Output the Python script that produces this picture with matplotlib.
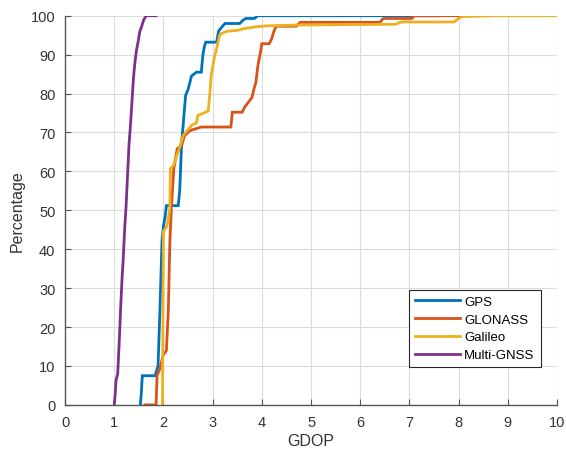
import numpy as np
import matplotlib
matplotlib.use("Agg")
import matplotlib.pyplot as plt

plt.rcParams['font.family'] = ['Liberation Sans', 'DejaVu Sans']

# GDOP vs cumulative percentage
gps_x = [1.53, 1.55, 1.57, 1.83, 1.89, 1.93, 1.97, 2.00, 2.03, 2.06, 2.30, 2.33, 2.37, 2.40,
         2.42, 2.45, 2.50, 2.54, 2.57, 2.67, 2.77, 2.80, 2.83, 2.86, 3.08, 3.12, 3.18, 3.25,
         3.55, 3.62, 3.68, 3.85, 3.92, 7.55]
gps_y = [0, 3, 7.5, 7.5, 10, 25, 42, 46, 48, 51.2, 51.2, 55, 67.5, 71.8,
         75, 79.5, 81, 83, 84.5, 85.5, 85.5, 89.8, 92, 93.2, 93.2, 96, 97, 98,
         98, 98.9, 99.3, 99.3, 100, 100]

glo_x = [1.62, 1.85, 1.87, 1.93, 1.99, 2.06, 2.10, 2.13, 2.16, 2.21, 2.28, 2.37, 2.43, 2.54,
         2.67, 2.77, 3.37, 3.40, 3.60, 3.65, 3.74, 3.80, 3.84, 3.88, 3.92, 3.96, 4.00, 4.15,
         4.20, 4.24, 4.29, 4.70, 4.78, 6.40, 6.47, 7.05, 7.10, 8.65]
glo_y = [0, 0, 7.6, 9.3, 12.7, 14, 24.7, 41.8, 50.4, 60.7, 65.8, 66.7, 69.2, 70.5,
         71, 71.4, 71.4, 75.2, 75.2, 76.5, 78, 79, 81.2, 82.9, 87.2, 89.8, 92.8, 92.8,
         94.1, 95.8, 97.3, 97.3, 98.3, 98.3, 99.3, 99.3, 100, 100]

gal_x = [1.98, 2.00, 2.05, 2.08, 2.13, 2.14, 2.20, 2.25, 2.32, 2.40, 2.45, 2.57, 2.67, 2.70,
         2.91, 2.94, 2.97, 3.03, 3.08, 3.14, 3.18, 3.28, 3.48, 3.65, 3.85, 4.09, 4.70, 6.59,
         6.73, 6.78, 6.85, 7.91, 8.00, 8.08, 8.70, 10.0]
gal_y = [0, 44.6, 45.5, 46.5, 50.4, 60.7, 61.5, 63.2, 65.8, 69.2, 70, 71.8, 72.5, 74.4,
         75.5, 79.5, 84.7, 89, 91.5, 95, 95.4, 96, 96.2, 96.7, 97.1, 97.4, 97.6, 97.8,
         97.8, 98.2, 98.4, 98.4, 99.3, 99.8, 100, 100]

multi_x = [1.00, 1.02, 1.035, 1.05, 1.07, 1.10, 1.13, 1.16, 1.18, 1.21, 1.24, 1.27, 1.30,
           1.33, 1.35, 1.39, 1.42, 1.45, 1.48, 1.52, 1.55, 1.60, 1.65, 1.85]
multi_y = [0, 3, 6.2, 7, 8, 16, 25, 33, 37, 45, 51, 59, 67,
           72, 76, 84, 88, 91, 93, 96, 97, 99, 100, 100]

series = [
    ("GPS", gps_x, gps_y, "#0072BD"),
    ("GLONASS", glo_x, glo_y, "#D95319"),
    ("Galileo", gal_x, gal_y, "#EDB120"),
    ("Multi-GNSS", multi_x, multi_y, "#7E2F8E"),
]

fig = plt.figure(figsize=(5.66, 4.52), dpi=100)
ax = fig.add_axes([0.115, 0.102, 0.869, 0.861])

for name, xs, ys, col in series:
    ax.plot(xs, ys, color=col, lw=2.0, label=name, solid_joinstyle='miter')

ax.set_xlim(0, 10)
ax.set_ylim(0, 100)
ax.set_xticks(np.arange(0, 11, 1))
ax.set_yticks(np.arange(0, 101, 10))
ax.grid(True, color='#dcdcdc', lw=0.8)
ax.set_axisbelow(True)

axcol = '#333333'
for s in ['top', 'right']:
    ax.spines[s].set_visible(False)
for s in ['left', 'bottom']:
    ax.spines[s].set_color('#555555')
    ax.spines[s].set_linewidth(1.0)
ax.tick_params(direction='in', length=4, width=0.8, colors='#555555',
               labelcolor=axcol, labelsize=10.5, pad=7)

ax.set_xlabel('GDOP', fontsize=11.5, color=axcol, labelpad=3)
ax.set_ylabel('Percentage', fontsize=11.5, color=axcol, labelpad=4)

leg = ax.legend(loc='lower right', bbox_to_anchor=(0.98, 0.08), fontsize=9.5,
                handlelength=3.4, handletextpad=0.3, borderpad=0.45,
                labelspacing=0.42, fancybox=False, framealpha=1)
leg.get_frame().set_edgecolor('#262626')
leg.get_frame().set_linewidth(0.8)

fig.savefig('out.png', dpi=100)
